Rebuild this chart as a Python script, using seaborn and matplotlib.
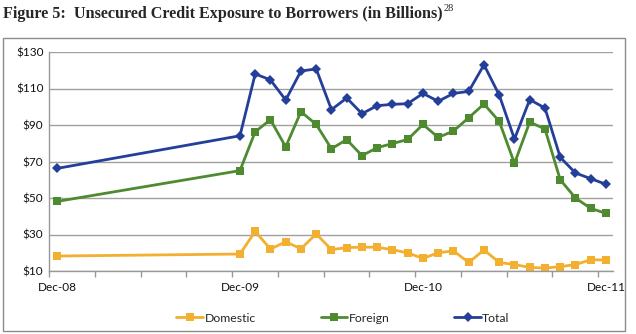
import matplotlib
matplotlib.use("Agg")
import matplotlib.pyplot as plt
import seaborn as sns
import pandas as pd
from matplotlib.patches import Rectangle

# ---- data ----
months = [0, 12] + list(range(13, 37))  # months since Dec-08
domestic = [18.2, 19.3, 31.7, 22.0, 26.0, 22.2, 30.3, 21.7, 22.8, 23.1, 23.0, 21.7, 19.9, 16.9,
            20.0, 21.0, 14.7, 21.5, 14.7, 13.5, 12.0, 11.6, 12.4, 13.5, 16.2, 16.0]
foreign = [48.1, 65.0, 86.3, 92.9, 78.0, 97.3, 90.3, 77.0, 82.0, 73.2, 77.6, 79.8, 82.1, 90.3,
           83.2, 86.7, 94.0, 101.5, 92.0, 69.0, 91.6, 87.8, 60.0, 50.0, 44.3, 41.6]
total = [66.2, 84.1, 118.0, 114.7, 103.7, 119.6, 120.7, 98.4, 104.8, 96.2, 100.6, 101.3, 101.7,
         107.3, 103.0, 107.3, 108.4, 123.0, 106.4, 82.3, 103.9, 99.3, 72.3, 63.7, 60.6, 57.5]
series_names = ["Domestic", "Foreign", "Total"]
tick_labels = ["Dec-08", "Dec-09", "Dec-10", "Dec-11"]
tick_months = [0, 12, 24, 36]
y_ticks = [10, 30, 50, 70, 90, 110, 130]

df = pd.DataFrame({
    "month": months * 3,
    "value": domestic + foreign + total,
    "series": [s for s, vals in zip(series_names, [domestic, foreign, total]) for _ in vals],
})

colors = {"Domestic": "#F2AF30", "Foreign": "#4E8B30", "Total": "#243F99"}
markers = {"Domestic": "s", "Foreign": "s", "Total": "D"}

sns.set_style("white")
plt.rcParams["font.family"] = ["Lato", "DejaVu Sans"]

fig = plt.figure(figsize=(6.36, 3.34), dpi=100)
ax = fig.add_axes([49/636, 1-271/334, (613-49)/636, (271-52)/334])

sns.lineplot(data=df, x="month", y="value", hue="series", style="series",
             palette=colors, markers=markers, dashes=False, linewidth=2.0,
             markersize=5.2, markeredgewidth=0, ax=ax, legend=True)

ax.set_xlim(-0.52, 36.46)
ax.set_ylim(10, 130)
ax.set_yticks(y_ticks)
ax.set_yticklabels([f"${v}" for v in y_ticks], fontsize=8.5, color="#111111")
ax.set_xticks(tick_months)
ax.set_xticklabels(tick_labels, fontsize=8.5, color="#111111")
ax.set_xticks([3*k - 0.52 for k in range(13)], minor=True)
ax.tick_params(axis="x", which="major", length=0, pad=8)
ax.tick_params(axis="x", which="minor", length=4, width=1, color="#999999", direction="out", bottom=True)
ax.tick_params(axis="y", length=0, pad=4)
ax.set_xlabel("")
ax.set_ylabel("")
ax.grid(axis="y", color="#A0A0A0", linewidth=1.0)
ax.set_axisbelow(True)
for s in ["top", "right"]:
    ax.spines[s].set_visible(False)
for s in ["left", "bottom"]:
    ax.spines[s].set_color("#999999")
    ax.spines[s].set_linewidth(1.0)

handles, labels = ax.get_legend_handles_labels()
ax.get_legend().remove()
fig.legend(handles, labels, loc="center", bbox_to_anchor=(343/636, 1-318/334), ncol=3,
           frameon=False, fontsize=8.8, handlelength=2.2, handletextpad=0.1,
           columnspacing=5.3)

# border around chart
fig.patches.append(Rectangle((3/636, 1-331/334), (625-3)/636, (331-38)/334,
                             transform=fig.transFigure, fill=False,
                             edgecolor="#8C8C8C", linewidth=1.0))

title = fig.text(3/636, 1-18/334, "Figure 5:  Unsecured Credit Exposure to Borrowers (in Billions)",
                 fontsize=11.6, fontweight="bold", family="Liberation Serif",
                 ha="left", va="baseline")
fig.canvas.draw()
bb = title.get_window_extent()
fig.text(bb.x1/636 + 1/636, 1-11/334, "28", fontsize=7.5, family="Liberation Serif",
         ha="left", va="baseline")

fig.savefig("out.png", dpi=100)
